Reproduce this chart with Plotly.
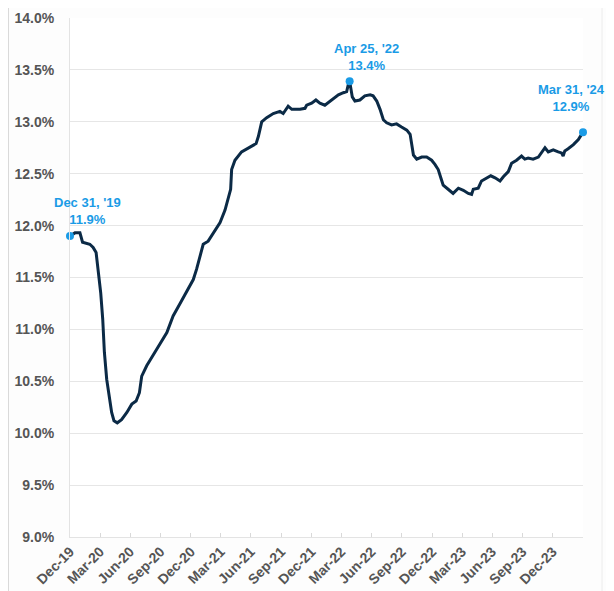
import plotly.graph_objects as go

dates = [
    "2019-12-31", "2020-01-15", "2020-01-30", "2020-02-07", "2020-02-29", "2020-03-10",
    "2020-03-19", "2020-03-26", "2020-04-02", "2020-04-08", "2020-04-13", "2020-04-20",
    "2020-04-30", "2020-05-05", "2020-05-12", "2020-05-22", "2020-06-04", "2020-06-20",
    "2020-07-05", "2020-07-18", "2020-07-28", "2020-08-04", "2020-08-19", "2020-09-08",
    "2020-09-28", "2020-10-19", "2020-11-07", "2020-11-28", "2020-12-18", "2021-01-07",
    "2021-01-17", "2021-01-27", "2021-02-06", "2021-02-21", "2021-03-08", "2021-03-29",
    "2021-04-13", "2021-04-23", "2021-04-30", "2021-05-03", "2021-05-13", "2021-06-02",
    "2021-06-28", "2021-07-16", "2021-07-23", "2021-07-28", "2021-08-02", "2021-08-17",
    "2021-09-06", "2021-09-26", "2021-10-06", "2021-10-21", "2021-11-01", "2021-11-26",
    "2021-12-11", "2021-12-16", "2021-12-31", "2022-01-13", "2022-01-25", "2022-02-09",
    "2022-02-25", "2022-03-12", "2022-03-22", "2022-04-06", "2022-04-16", "2022-04-21",
    "2022-04-25", "2022-05-03", "2022-05-11", "2022-05-26", "2022-06-10", "2022-06-26",
    "2022-07-05", "2022-07-16", "2022-07-26", "2022-08-05", "2022-08-15", "2022-08-30",
    "2022-09-14", "2022-09-29", "2022-10-15", "2022-10-25", "2022-10-30", "2022-11-04",
    "2022-11-14", "2022-11-29", "2022-12-14", "2022-12-29", "2023-01-08", "2023-01-18",
    "2023-01-28", "2023-02-02", "2023-02-17", "2023-03-04", "2023-03-20", "2023-04-04",
    "2023-04-19", "2023-04-29", "2023-05-04", "2023-05-19", "2023-05-29", "2023-06-13",
    "2023-06-26", "2023-07-09", "2023-07-24", "2023-08-03", "2023-08-18", "2023-08-28",
    "2023-09-12", "2023-09-27", "2023-10-07", "2023-10-17", "2023-11-01", "2023-11-17",
    "2023-11-27", "2023-12-07", "2023-12-17", "2024-01-01", "2024-01-16", "2024-01-26",
    "2024-01-31", "2024-02-05", "2024-02-15", "2024-03-02", "2024-03-17", "2024-03-31",
]
values = [
    11.90, 11.93, 11.93, 11.84, 11.82, 11.79,
    11.74, 11.55, 11.35, 11.10, 10.78, 10.52,
    10.33, 10.20, 10.12, 10.10, 10.13, 10.20,
    10.28, 10.31, 10.39, 10.55, 10.65, 10.76,
    10.86, 10.97, 11.13, 11.25, 11.36, 11.48,
    11.58, 11.70, 11.82, 11.85, 11.93, 12.03,
    12.15, 12.28, 12.35, 12.54, 12.63, 12.71,
    12.76, 12.79, 12.86, 12.92, 13.00, 13.04,
    13.08, 13.10, 13.08, 13.15, 13.12, 13.12,
    13.13, 13.16, 13.18, 13.21, 13.18, 13.16,
    13.20, 13.24, 13.26, 13.28, 13.29, 13.36,
    13.39, 13.24, 13.20, 13.21, 13.25, 13.26,
    13.25, 13.20, 13.12, 13.02, 12.99, 12.97,
    12.98, 12.95, 12.92, 12.88, 12.76, 12.68,
    12.64, 12.66, 12.66, 12.63, 12.59, 12.54,
    12.44, 12.39, 12.35, 12.31, 12.36, 12.34,
    12.31, 12.30, 12.35, 12.36, 12.43, 12.46,
    12.48, 12.46, 12.43, 12.47, 12.52, 12.60,
    12.63, 12.67, 12.64, 12.65, 12.64, 12.66,
    12.70, 12.75, 12.71, 12.73, 12.71, 12.70,
    12.67, 12.72, 12.74, 12.78, 12.83, 12.90,
]

tick_dates = [
    "2019-12-31", "2020-03-31", "2020-06-30", "2020-09-30", "2020-12-31",
    "2021-03-31", "2021-06-30", "2021-09-30", "2021-12-31", "2022-03-31",
    "2022-06-30", "2022-09-30", "2022-12-31", "2023-03-31", "2023-06-30",
    "2023-09-30", "2023-12-31",
]
tick_labels = [
    "Dec-19", "Mar-20", "Jun-20", "Sep-20", "Dec-20", "Mar-21", "Jun-21", "Sep-21",
    "Dec-21", "Mar-22", "Jun-22", "Sep-22", "Dec-22", "Mar-23", "Jun-23", "Sep-23",
    "Dec-23",
]
y_ticks = [9.0, 9.5, 10.0, 10.5, 11.0, 11.5, 12.0, 12.5, 13.0, 13.5, 14.0]
y_labels = ["9.0%", "9.5%", "10.0%", "10.5%", "11.0%", "11.5%", "12.0%", "12.5%",
            "13.0%", "13.5%", "14.0%"]

hl_dates = ["2019-12-31", "2022-04-25", "2024-03-31"]
hl_values = [11.9, 13.39, 12.9]
hl_labels = ["Dec 31, '19<br>11.9%", "Apr 25, '22<br>13.4%", "Mar 31, '24<br>12.9%"]
hl_xshift = [17, 17, -12]
hl_yshift = [7, 6, 16]

NAVY = "#0b2a46"
BLUE = "#1a9be6"
FONT = "Liberation Sans, Arial, sans-serif"

fig = go.Figure()
fig.add_trace(go.Scatter(x=dates, y=values, mode="lines",
                         line=dict(color=NAVY, width=3), hoverinfo="skip",
                         showlegend=False))
fig.add_trace(go.Scatter(x=hl_dates, y=hl_values, mode="markers",
                         marker=dict(color=BLUE, size=8), showlegend=False,
                         cliponaxis=False))

for d, v, t, xs, ys in zip(hl_dates, hl_values, hl_labels, hl_xshift, hl_yshift):
    fig.add_annotation(x=d, y=v, text=t, showarrow=False, xshift=xs, yshift=ys,
                       yanchor="bottom", xanchor="center", align="center",
                       font=dict(family=FONT, size=13, color=BLUE, weight="bold"))

# page border decoration
fig.add_shape(type="rect", xref="paper", yref="paper", x0=-70/513, x1=-61/513,
              y0=-1, y1=2, fillcolor="#dadada", line_width=0, layer="below")
fig.add_shape(type="rect", xref="paper", yref="paper", x0=(611-70)/513, x1=(625-70)/513,
              y0=-1, y1=2, fillcolor="#dadada", line_width=0, layer="below")
fig.add_shape(type="line", xref="paper", yref="paper", x0=(602-70)/513, x1=(602-70)/513,
              y0=-1, y1=2, line=dict(color="#ececec", width=1), layer="below")

fig.update_layout(
    width=614, height=591,
    margin=dict(l=62, r=39, t=10, b=62),
    paper_bgcolor="#fdfdfd", plot_bgcolor="#ffffff",
    font=dict(family=FONT, color="#555555"),
    xaxis=dict(type="date", range=["2019-12-31", "2024-03-31"],
               tickmode="array", tickvals=tick_dates, ticktext=tick_labels,
               tickangle=-45, showgrid=False, zeroline=False, automargin=False,
               ticks="inside", ticklen=4, tickcolor="#d9d9d9",
               showline=True, linecolor="#e3e3e3", linewidth=1,
               tickfont=dict(family=FONT, size=14, color="#555555", weight="bold")),
    yaxis=dict(range=[9, 14], tickmode="array", tickvals=y_ticks, ticktext=y_labels,
               showgrid=True, gridcolor="#e6e6e6", gridwidth=1, zeroline=False,
               showline=True, linecolor="#e3e3e3", linewidth=1, ticks="",
               ticklabelstandoff=12, automargin=False,
               tickfont=dict(family=FONT, size=14, color="#555555", weight="bold")),
)

fig.write_html("out.html")
